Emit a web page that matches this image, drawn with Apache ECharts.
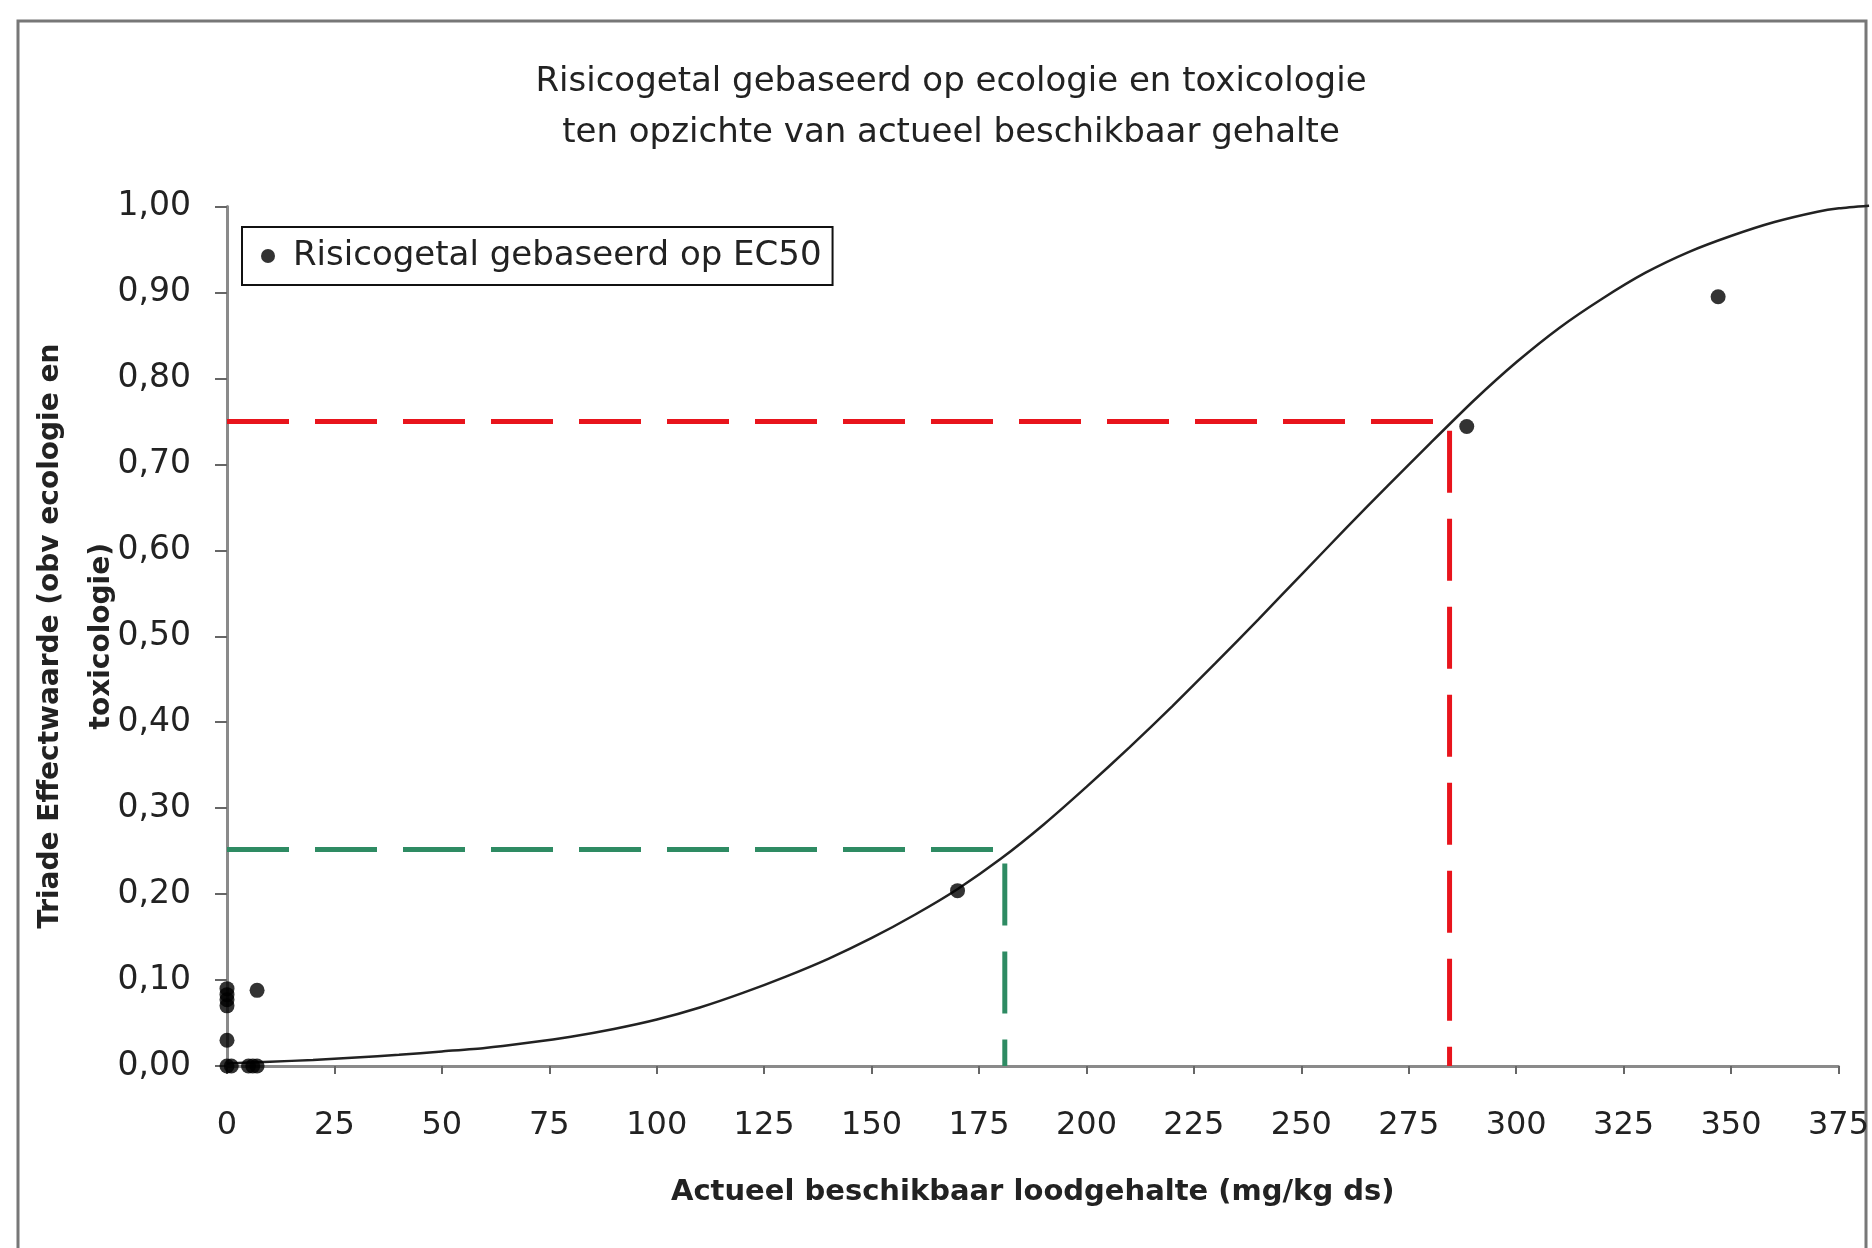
<!DOCTYPE html>
<html>
<head>
<meta charset="utf-8">
<script src="https://cdn.jsdelivr.net/npm/echarts@6/dist/echarts.min.js"></script>
<style>
html,body{margin:0;padding:0;background:#fff;}
#chart{width:1872px;height:1248px;}
</style>
</head>
<body>
<div id="chart"></div>
<script>
// Observed data points (x: mg/kg ds, y: effect value)
const pointX = [0, 0, 0, 0, 0, 0, 1, 5, 6, 7, 7, 170, 288.5, 347];
const pointY = [0.090, 0.083, 0.077, 0.070, 0.030, 0.000, 0.000, 0.000, 0.000, 0.000, 0.088, 0.204, 0.744, 0.895];

// Fitted curve (it runs slightly past the last tick, to the frame)
const curveX = [0, 10, 20, 30, 40, 50, 60, 70, 80, 90, 100, 110, 120, 130, 140, 150, 160, 170, 180, 190,
  200, 210, 220, 230, 240, 250, 260, 270, 280, 290, 300, 310, 320, 330, 340, 350, 360, 370, 375, 382];
const curveY = [0.003, 0.005, 0.007, 0.010, 0.013, 0.017, 0.021, 0.027, 0.034, 0.043, 0.054, 0.068, 0.085, 0.104, 0.125, 0.149, 0.176, 0.206, 0.241, 0.281,
  0.325, 0.371, 0.419, 0.469, 0.520, 0.572, 0.624, 0.675, 0.725, 0.774, 0.819, 0.859, 0.893, 0.923, 0.947, 0.966, 0.982, 0.994, 0.998, 1.001];

// Reference lines (dashed)
const greenX = [0, 181, 181];
const greenY = [0.252, 0.252, 0];
const redX = [0, 284.5, 284.5];
const redY = [0.750, 0.750, 0];

const xMax = 375;
const curveXMax = 382;

const titleLines = ['Risicogetal gebaseerd op ecologie en toxicologie', 'ten opzichte van actueel beschikbaar gehalte'];
const xAxisTitle = 'Actueel beschikbaar loodgehalte (mg/kg ds)';
const yAxisTitle = ['Triade Effectwaarde (obv ecologie en', 'toxicologie)'];
const legendName = 'Risicogetal gebaseerd op EC50';

const zip = (a, b) => a.map((v, i) => [v, b[i]]);
const FONT = '"DejaVu Sans", Verdana, sans-serif';

const W = 1872, GL = 227, GR = 33, GT = 206.5, GB = 182;
const plotW = W - GL - GR;
const curveGridRight = W - GL - plotW * curveXMax / xMax;

const chart = echarts.init(document.getElementById('chart'));
chart.setOption({
  backgroundColor: '#fff',
  animation: false,
  title: {
    text: titleLines.join('\n'),
    left: 946,
    textAlign: 'center',
    top: 52,
    textStyle: { fontFamily: FONT, fontSize: 34, fontWeight: 'normal', color: '#222', lineHeight: 51 }
  },
  graphic: [{
    type: 'rect',
    shape: { x: 18, y: 21, width: 1848, height: 1300 },
    style: { fill: 'none', stroke: '#777', lineWidth: 3 },
    z: -1
  }],
  legend: {
    data: [{ name: legendName, icon: 'circle' }],
    left: 242, top: 227,
    orient: 'vertical',
    borderColor: '#111', borderWidth: 2,
    padding: [12, 11, 12, 19],
    itemWidth: 40, itemHeight: 14, itemGap: 0,
    textStyle: { fontFamily: FONT, fontSize: 34, color: '#222' },
    backgroundColor: '#fff'
  },
  grid: [
    { left: GL, right: GR, top: GT, bottom: GB, containLabel: false },
    { left: GL, right: curveGridRight, top: GT, bottom: GB, containLabel: false }
  ],
  xAxis: [{
    type: 'value', min: 0, max: xMax, interval: 25, gridIndex: 0,
    splitLine: { show: false },
    axisLine: { lineStyle: { color: '#8a8a8a', width: 3 } },
    axisTick: { length: 8, lineStyle: { color: '#666', width: 2 } },
    axisLabel: { fontFamily: FONT, fontSize: 32, color: '#222', margin: 44 },
    name: xAxisTitle, nameLocation: 'middle', nameGap: 112,
    nameTextStyle: { fontFamily: FONT, fontSize: 29, fontWeight: 'bold', color: '#222' }
  }, {
    type: 'value', min: 0, max: curveXMax, gridIndex: 1, show: false
  }],
  yAxis: [{
    type: 'value', min: 0, max: 1, interval: 0.1, gridIndex: 0,
    splitLine: { show: false },
    axisLine: { show: true, lineStyle: { color: '#8a8a8a', width: 3 } },
    axisTick: { show: true, length: 12, lineStyle: { color: '#666', width: 2 } },
    axisLabel: { fontFamily: FONT, fontSize: 33, color: '#222', margin: 36,
      formatter: v => v.toFixed(2).replace('.', ',') },
    name: yAxisTitle.join('\n'), nameLocation: 'middle', nameGap: 100, nameRotate: 90,
    nameMoveOverlap: false,
    nameTextStyle: { fontFamily: FONT, fontSize: 28, fontWeight: 'bold', color: '#222', lineHeight: 51 }
  }, {
    type: 'value', min: 0, max: 1, gridIndex: 1, show: false
  }],
  series: [
    {
      name: 'green', type: 'line', data: zip(greenX, greenY), symbol: 'none',
      lineStyle: { color: '#2e8b63', width: 5, type: [62, 26] }, z: 2
    },
    {
      name: 'red', type: 'line', data: zip(redX, redY), symbol: 'none',
      lineStyle: { color: '#e8141c', width: 5, type: [62, 26] }, z: 2
    },
    {
      name: 'curve', type: 'line', data: zip(curveX, curveY), symbol: 'none',
      xAxisIndex: 1, yAxisIndex: 1,
      smooth: 0.2, clip: false,
      lineStyle: { color: '#222', width: 2.5 }, z: 3
    },
    {
      name: legendName, type: 'scatter', data: zip(pointX, pointY),
      symbol: 'circle', symbolSize: 15, clip: false,
      itemStyle: { color: '#000' }, z: 4
    }
  ]
});
</script>
</body>
</html>
